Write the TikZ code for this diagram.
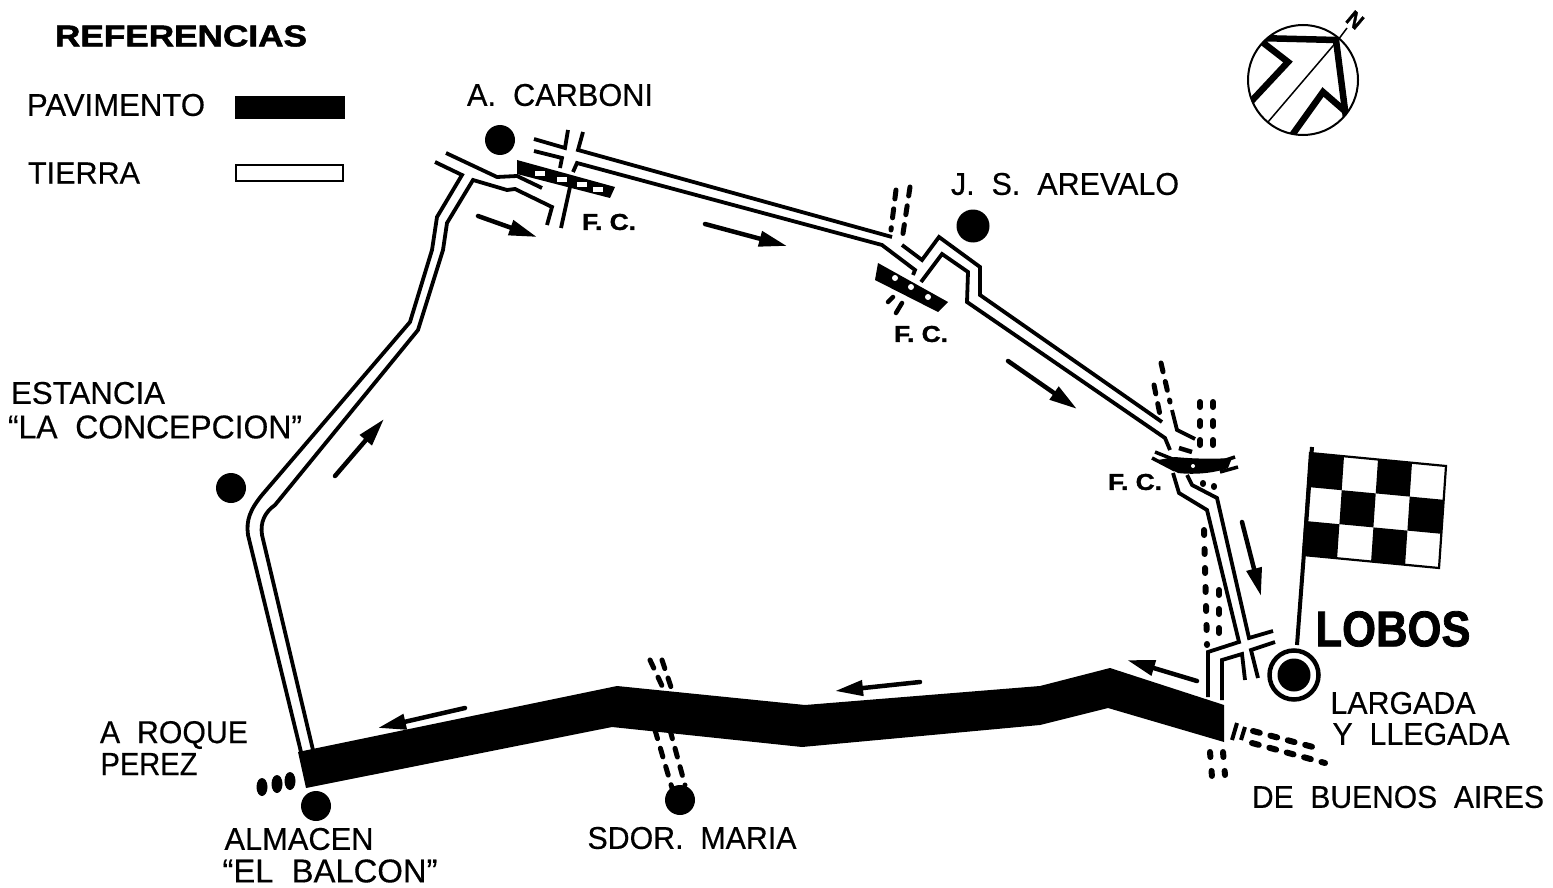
\documentclass[tikz,border=0pt]{standalone}
\usepackage{fontspec}
\usepackage{graphicx}
\setmainfont{Liberation Sans}[FakeBold=0.4]
\newfontfamily\heavy{Liberation Sans Bold}[FakeBold=1.6]
\usetikzlibrary{arrows.meta}
\newcommand\lbl[3]{\resizebox{#1pt}{#2pt}{#3}}
\tikzset{
  road/.style={line width=3.8pt,line join=miter,line cap=butt},
  dashrail/.style={line width=5pt,dash pattern=on 9pt off 10pt,line cap=round},
  dotrail/.style={line width=6pt,dash pattern=on 5pt off 14pt,line cap=round},
  dirarrow/.style={line width=4.5pt,line cap=round,-{Triangle[length=28pt,width=15pt]}},
  place/.style={circle,fill=black,inner sep=0pt,minimum size=30pt},
  txt/.style={inner sep=0pt,anchor=center},
}
\begin{document}
\begin{tikzpicture}[x=1pt,y=-1pt]
\useasboundingbox (0,0) rectangle (1553,888);
\fill[white] (0,0) rectangle (1553,888);

% legend
\node[txt] (ref) at (181,36) {\lbl{252}{21}{\heavy REFERENCIAS}};
\node[txt] (pav) at (116,105) {\lbl{178}{22}{PAVIMENTO}};
\node[txt] (tie) at (84,173) {\lbl{112}{21}{TIERRA}};
\fill (235,96) rectangle (345,119);
\draw[line width=2.5pt] (236,165) rectangle (343,181);

% labels
\node[txt] (carb) at (560,95) {\lbl{186}{22}{A.\ \ CARBONI}};
\node[txt] (arev) at (1065,184) {\lbl{228}{22}{J.\ \ S.\ \ AREVALO}};
\node[txt] (est) at (88,393) {\lbl{154}{22}{ESTANCIA}};
\node[txt] (conc) at (155,427) {\lbl{294}{23}{``LA\ \ CONCEPCION''}};
\node[txt] (roq) at (174,735) {\lbl{148}{22}{A\ \ ROQUE}};
\node[txt] (per) at (149,764) {\lbl{97}{22}{PEREZ}};
\node[txt] (alm) at (299,839) {\lbl{149}{22}{ALMACEN}};
\node[txt] (bal) at (330,871) {\lbl{215}{23}{``EL\ \ BALCON''}};
\node[txt] (sdor) at (692,838) {\lbl{209}{22}{SDOR.\ \ MARIA}};
\node[txt] (lob) at (1393,629) {\lbl{155}{35}{\heavy LOBOS}};
\node[txt] (larg) at (1403,703) {\lbl{145}{22}{LARGADA}};
\node[txt] (lleg) at (1421,734) {\lbl{177}{22}{Y\ \ LLEGADA}};
\node[txt] (bue) at (1398,797) {\lbl{292}{22}{DE\ \ BUENOS\ \ AIRES}};
\node[txt] (fc1) at (609,222) {\lbl{54}{16}{\heavy F.\ C.}};
\node[txt] (fc2) at (921,334) {\lbl{54}{16}{\heavy F.\ C.}};
\node[txt] (fc3) at (1135,482) {\lbl{54}{16}{\heavy F.\ C.}};

% places
\node[place] (pcarb) at (500,140) {};
\node[place,minimum size=33pt] (parev) at (973,226) {};
\node[place] (pest) at (231,488) {};
\node[place] (pbal) at (316,806) {};
\node[place] (psdor) at (680,800) {};
\node[place,minimum size=33pt] (plob) at (1294,675) {};
\node[circle,draw,line width=4.5pt,inner sep=0pt,minimum size=49pt] (rlob) at (1294,675) {};

% paved road
\fill (298,752) -- (617,686) -- (805,705) -- (1040,686) -- (1110,668) -- (1224,705)
   -- (1224,742) -- (1108,708) -- (1040,725) -- (802,747) -- (612,727) -- (306,788) -- cycle;

% earth road, west side
\draw[road] (301,752) -- (248,535) .. controls (246,520) and (250,510) .. (262,495)
   -- (410,322) -- (432,250) -- (437,217) -- (462,175) -- (435,162);
\draw[road] (313,750) -- (262,535) .. controls (260,522) and (265,512) .. (275,505)
   -- (418,330) -- (443,250) -- (447,223) -- (473,180) -- (507,190) -- (515,189) -- (552,207) -- (547,225);
\draw[road] (446,153) -- (497,177) -- (517,176) -- (542,188);

% road around crossing 1
\draw[road] (568,130) -- (565,148) -- (534,139);
\draw[road] (534,151) -- (562,158) -- (560,168);
\draw[road] (583,132) -- (578,150) -- (892,237);
\draw[road] (573,172) -- (577,163) -- (882,245) -- (915,270) -- (913,275);
\draw[road] (570,187) -- (561,228);

% rail 1
\fill (517,160) -- (615,187) -- (610,198) -- (517,174) -- cycle;
\foreach \p/\q in {540/174,562/180,582/185,598/190}
  \fill[white] (\p-5,\q-3) rectangle (\p+5,\q+2);

% road 2
\draw[road] (902,245) -- (922,260) -- (939,237) -- (980,267) -- (980,295) -- (1162,422);
\draw[road] (921,282) -- (942,254) -- (968,272) -- (967,302) -- (1165,438) -- (1170,450);

% rail 2
\fill (878,263) -- (948,302) -- (938,312) -- (875,280) -- cycle;
\foreach \p/\q in {895/278,911/287,928/297}
  \fill[white] (\p,\q) circle (3pt);
\draw[dashrail] (896,190) -- (891,230);
\draw[dashrail] (910,187) -- (902,240);
\draw[line width=4.5pt,line cap=round] (893,297) -- (888,302);
\draw[line width=4.5pt,line cap=round] (902,303) -- (896,313);

% crossing 3
\draw[road] (1172,410) -- (1177,430) -- (1195,439);
\draw[dashrail] (1161,363) -- (1170,402);
\draw[dashrail] (1154,385) -- (1160,415);
\draw[dotrail] (1200,402) -- (1200,452);
\draw[dotrail] (1213,402) -- (1213,452);
\draw[dotrail] (1203,483) -- (1203,484);
\draw[dotrail] (1214,486) -- (1214,487);
\draw[line width=4.5pt] (1179,448) -- (1192,452);
\fill (1158,460) -- (1175,457) .. controls (1195,459) and (1215,459) .. (1232,458)
   -- (1228,468) .. controls (1215,473) and (1195,475) .. (1178,473) -- (1165,466) -- cycle;
\draw[line width=3.5pt] (1155,452) -- (1175,460);
\draw[line width=3.5pt] (1152,458) -- (1175,470);
\draw[line width=3.5pt] (1235,457) -- (1220,462);
\draw[line width=3.5pt] (1238,467) -- (1220,472);
\fill[white] (1193,466) circle (2pt);
\draw[road] (1173,473) -- (1179,493) -- (1207,510) -- (1239,642) -- (1208,652) -- (1208,697);
\draw[road] (1187,475) -- (1192,485) -- (1217,498) -- (1249,638) -- (1273,631);
\draw[road] (1222,700) -- (1222,660) -- (1242,654) -- (1245,680);
\draw[road] (1258,678) -- (1251,650) -- (1275,642);
\draw[dotrail] (1204,530) -- (1207,645);
\draw[dotrail] (1219,590) -- (1219,645);

% bottom dashes
\draw[dashrail] (650,660) -- (664,690);
\draw[dashrail] (662,660) -- (672,690);
\draw[dashrail] (655,730) -- (672,788);
\draw[dashrail] (670,730) -- (685,785);
\draw[dotrail] (1210,752) -- (1212,777);
\draw[dotrail] (1223,752) -- (1225,775);
\draw[line width=4pt] (1237,723) -- (1232,740);
\draw[line width=4pt] (1245,727) -- (1241,740);
\draw[dotrail,dash pattern=on 7pt off 11pt] (1253,731) -- (1313,747);
\draw[dotrail,dash pattern=on 7pt off 11pt] (1252,743) -- (1325,763);
\foreach \p/\q in {262/787,277/784,290/781}
  \fill (\p,\q) ellipse (5.5pt and 9pt);

% direction arrows
\coordinate (a1a) at (478,216); \coordinate (a1b) at (537,237);
\coordinate (a2a) at (705,224); \coordinate (a2b) at (787,246);
\coordinate (a3a) at (1008,361); \coordinate (a3b) at (1077,409);
\coordinate (a4a) at (1242,522); \coordinate (a4b) at (1261,596);
\coordinate (a5a) at (1197,681); \coordinate (a5b) at (1127,660);
\coordinate (a6a) at (920,682); \coordinate (a6b) at (835,691);
\coordinate (a7a) at (465,708); \coordinate (a7b) at (378,728);
\coordinate (a8a) at (335,476); \coordinate (a8b) at (384,419);
\foreach \k in {1,...,8} \draw[dirarrow] (a\k a) -- (a\k b);

% flag
\draw[line width=4pt] (1312,447) -- (1297,645);
\foreach \i/\j in {0/0,2/0,1/1,3/1,0/2,2/2}
  \fill ({1310+34*\i-2.3*\j},{453+3.2*\i+34*\j}) -- ({1310+34*(\i+1)-2.3*\j},{453+3.2*(\i+1)+34*\j})
     -- ({1310+34*(\i+1)-2.3*(\j+1)},{453+3.2*(\i+1)+34*(\j+1)}) -- ({1310+34*\i-2.3*(\j+1)},{453+3.2*\i+34*(\j+1)}) -- cycle;
\draw[line width=2.2pt] (1310,453) -- (1446,466) -- (1439,568) -- (1303,555) -- cycle;

% compass
\begin{scope}
\clip (1303,80) circle (55pt);
\draw[line width=6.5pt,line join=miter] (1245,108) -- (1288,62) -- (1257,38) -- (1336,40) -- (1346,118);
\draw[line width=6.5pt,line join=miter] (1346,112) -- (1323,92) -- (1285,145);
\end{scope}
\draw[line width=2pt] (1303,80) circle (55pt);
\draw[line width=1.5pt] (1268,122) -- (1338,40) -- (1347,28);
\node[txt,rotate=-40] (north) at (1355,20) {\lbl{15}{15}{\heavy N}};
\end{tikzpicture}
\end{document}
